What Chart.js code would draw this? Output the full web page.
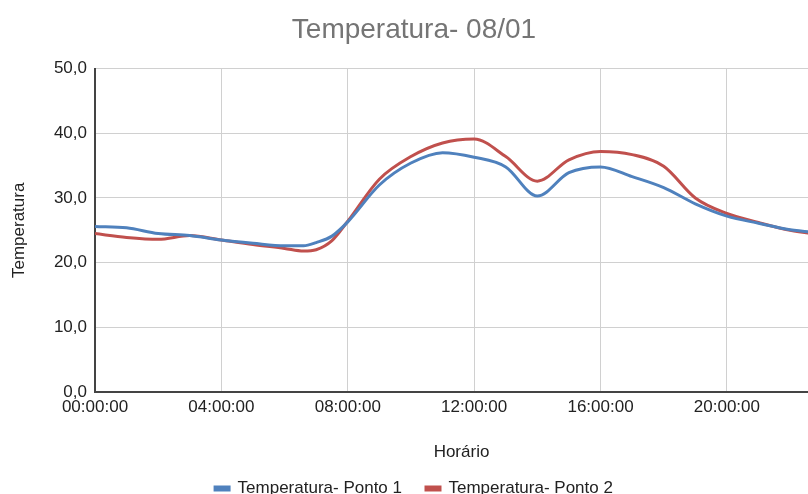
<!DOCTYPE html>
<html>
<head>
<meta charset="utf-8">
<script src="https://cdn.jsdelivr.net/npm/chart.js@4"></script>
<style>
  html, body { margin: 0; padding: 0; background: #fff; }
  #wrap { width: 808px; height: 494px; overflow: hidden; position: relative; }
</style>
</head>
<body>
<div id="wrap"><canvas id="temp_chart" width="828" height="507"></canvas></div>
<script>
// horas do dia (0 = 00:00:00)
const horas = [0, 1, 2, 3, 4, 5, 6, 6.6, 7, 7.5, 8, 9, 10, 11, 12, 13, 14, 15, 16, 17, 18, 19, 20, 21, 22, 23];
const ponto1 = [25.6, 25.4, 24.5, 24.2, 23.5, 23.0, 22.6, 22.6, 23.1, 24.1, 26.3, 32.0, 35.4, 37.0, 36.3, 34.8, 30.3, 33.9, 34.8, 33.3, 31.6, 29.1, 27.2, 26.1, 25.1, 24.6];
const ponto2 = [24.5, 23.9, 23.6, 24.2, 23.5, 22.8, 22.2, 21.8, 22.0, 23.4, 26.4, 32.9, 36.4, 38.5, 39.1, 36.4, 32.6, 35.9, 37.2, 36.7, 34.9, 30.0, 27.6, 26.2, 25.0, 24.3];
const y_ticks = [0, 10, 20, 30, 40, 50];

const font_name = '"Liberation Sans", Arial, sans-serif';

function to_points(values) {
    return values.map((v, i) => ({x: horas[i], y: v}));
}

function hora_label(h) {
    return String(h).padStart(2, '0') + ':00:00';
}

function add_chart() {
    const ctx = document.getElementById('temp_chart');
    new Chart(ctx, {
        type: 'line',
        data: {
            datasets: [{
                label: 'Temperatura- Ponto 1',
                data: to_points(ponto1),
                borderColor: '#4F81BD',
                backgroundColor: '#4F81BD',
                borderWidth: 3,
                pointRadius: 0,
                cubicInterpolationMode: 'monotone'
            }, {
                label: 'Temperatura- Ponto 2',
                data: to_points(ponto2),
                borderColor: '#C0504D',
                backgroundColor: '#C0504D',
                borderWidth: 3,
                pointRadius: 0,
                cubicInterpolationMode: 'monotone'
            }]
        },
        options: {
            responsive: false,
            animation: false,
            devicePixelRatio: 1,
            layout: { padding: 0 },
            plugins: {
                title: {
                    display: true,
                    text: 'Temperatura- 08/01',
                    color: '#757575',
                    font: { family: font_name, size: 28, weight: 'normal' },
                    padding: { top: 13, bottom: 22 }
                },
                legend: {
                    position: 'bottom',
                    labels: {
                        color: '#222',
                        font: { family: font_name, size: 17 },
                        boxWidth: 14,
                        boxHeight: 3,
                        padding: 24
                    }
                },
                tooltip: { enabled: false }
            },
            scales: {
                x: {
                    type: 'linear',
                    min: 0,
                    max: 23.2,
                    afterBuildTicks: s => { s.ticks = s.ticks.filter(t => t.value % 4 === 0); },
                    afterFit: s => { s.height = 64; },
                    ticks: {
                        stepSize: 4,
                        color: '#222',
                        padding: 5,
                        maxRotation: 0,
                        font: { family: font_name, size: 17 },
                        callback: v => hora_label(v)
                    },
                    grid: { color: '#d0d0d0', lineWidth: 1, drawTicks: false },
                    border: { color: '#444', width: 2 },
                    title: {
                        display: true,
                        text: 'Horário',
                        color: '#222',
                        font: { family: font_name, size: 17 },
                        padding: { top: 0, bottom: -7 }
                    }
                },
                y: {
                    min: 0,
                    max: 50,
                    afterBuildTicks: s => { s.ticks = y_ticks.map(v => ({value: v})); },
                    afterFit: s => { s.width = 95; },
                    ticks: {
                        color: '#222',
                        padding: 8,
                        font: { family: font_name, size: 17 },
                        callback: v => v.toFixed(1).replace('.', ',')
                    },
                    grid: { color: '#d0d0d0', lineWidth: 1, drawTicks: false },
                    border: { color: '#444', width: 2 },
                    title: {
                        display: true,
                        text: 'Temperatura',
                        color: '#222',
                        font: { family: font_name, size: 17 },
                        padding: { top: 9, bottom: 0 }
                    }
                }
            }
        }
    });
}

add_chart();
</script>
</body>
</html>
